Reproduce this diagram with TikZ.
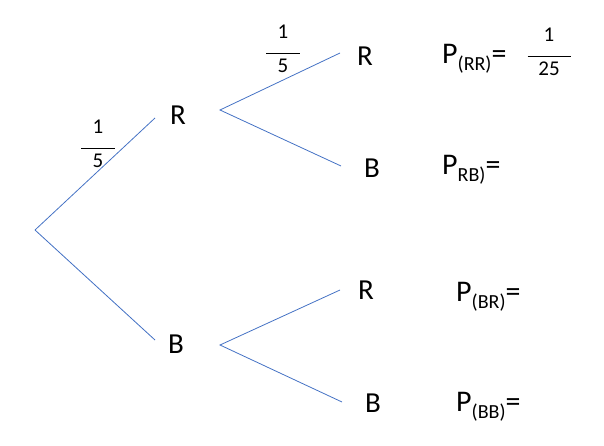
\documentclass[tikz,border=0pt]{standalone}
\usepackage{fontspec}
\setmainfont{Carlito}
\definecolor{branch}{HTML}{4472C4}
\begin{document}
\begin{tikzpicture}[x=1pt,y=-1pt,
  branchline/.style={draw=branch,line width=0.8pt},
  letter/.style={font=\fontsize{29}{29}\selectfont,inner sep=0pt},
  prob/.style={font=\fontsize{30}{30}\selectfont,inner sep=0pt,anchor=base west},
  frac/.style={font=\fontsize{21}{21}\selectfont,inner sep=0pt,align=center}]
\useasboundingbox (0,0) rectangle (604,446);
\newcommand{\subtxt}[1]{\raisebox{-7pt}{\fontsize{20}{20}\selectfont #1}}
\newcommand{\fracbox}[3]{\begin{tabular}{@{}c@{}}#1\\[-5pt]\rule{#3}{0.8pt}\\[-3pt]#2\end{tabular}}
% forks
\coordinate (root) at (35,230);
\coordinate (rin) at (155,118);
\coordinate (bin) at (155,340);
\coordinate (rfork) at (220,110);
\coordinate (bfork) at (220,345);
\coordinate (rrend) at (340,53);
\coordinate (rbend) at (341,166);
\coordinate (brend) at (340,290);
\coordinate (bbend) at (342,402);
% letters
\node[letter] (R1) at (178,115) {R};
\node[letter] (B1) at (176,344) {B};
\node[letter] (RR) at (365,56) {R};
\node[letter] (RB) at (372,168) {B};
\node[letter] (BR) at (366,290) {R};
\node[letter] (BB) at (373,403) {B};
% branches
\draw[branchline] (root) -- (rin);
\draw[branchline] (root) -- (bin);
\draw[branchline] (rrend) -- (rfork) -- (rbend);
\draw[branchline] (brend) -- (bfork) -- (bbend);
% fractions
\node[frac] (f1) at (98,146) {\fracbox{1}{5}{34pt}};
\node[frac] (f2) at (283,51) {\fracbox{1}{5}{34pt}};
\node[frac] (f3) at (549,54) {\fracbox{1}{25}{43pt}};
% probabilities
\node[prob] (pRR) at (442,64) {P\subtxt{(RR)}=};
\node[prob] (pRB) at (442,175) {P\subtxt{RB)}=};
\node[prob] (pBR) at (456,301) {P\subtxt{(BR)}=};
\node[prob] (pBB) at (456,411) {P\subtxt{(BB)}=};
\end{tikzpicture}
\end{document}
